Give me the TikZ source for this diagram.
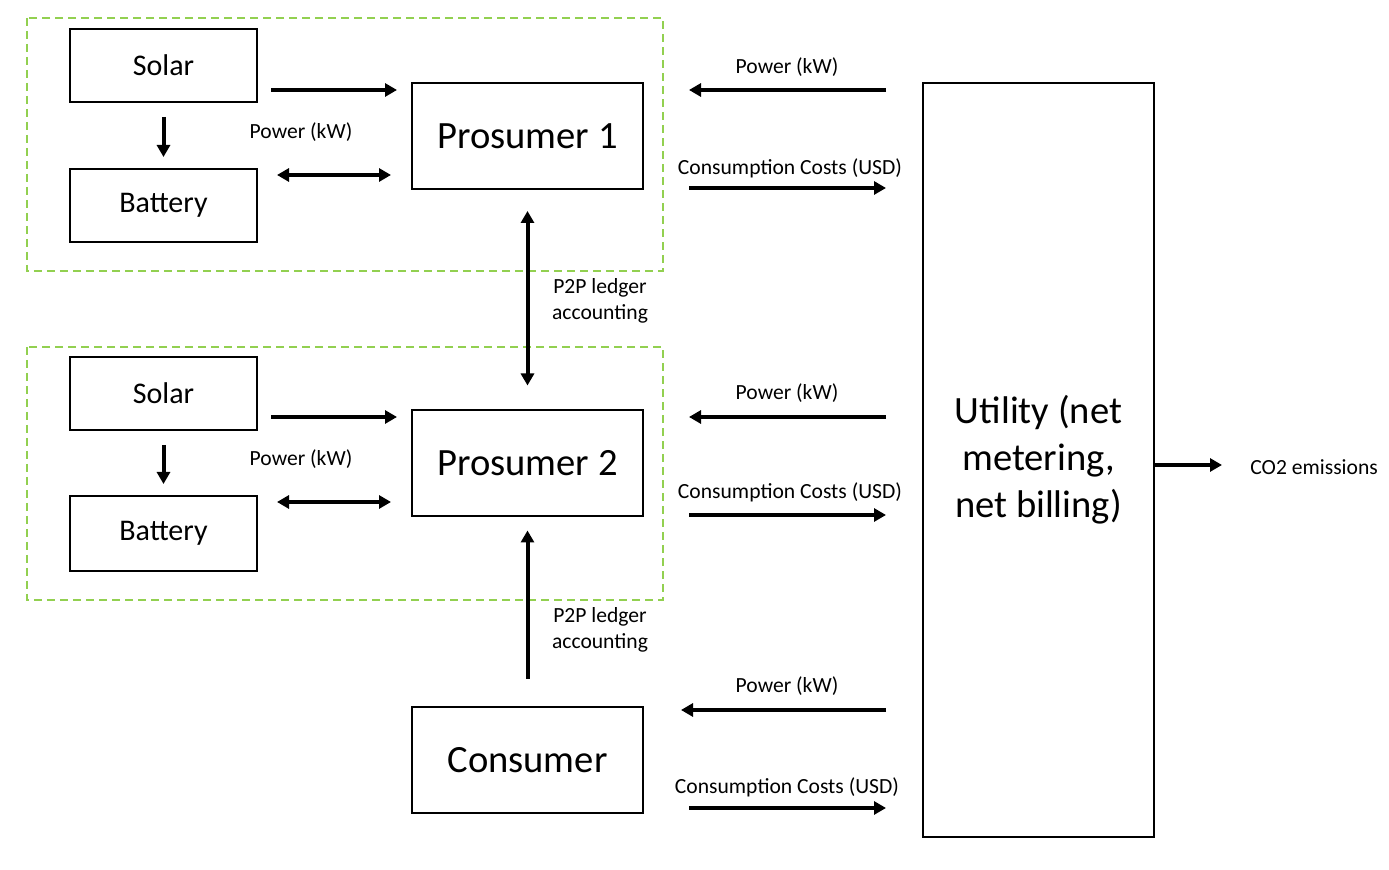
\documentclass[tikz,border=0pt]{standalone}
\usepackage{fontspec}
\setmainfont{Carlito}
\usetikzlibrary{arrows.meta}
\definecolor{grpgreen}{RGB}{146,208,80}
\tikzset{
  box/.style={draw, line width=1pt, inner sep=0pt, align=center},
  smallbox/.style={box, minimum width=93.5pt, minimum height=36.5pt, font=\fontsize{15}{18}\selectfont},
  bigbox/.style={box, minimum width=115.5pt, minimum height=53pt, font=\fontsize{19.3}{23.5}\selectfont},
  arr/.style={line width=2pt, -{Triangle[length=6pt,width=6.5pt]}},
  darr/.style={line width=2pt, {Triangle[length=6pt,width=6.5pt]}-{Triangle[length=6pt,width=6.5pt]}},
  lbl/.style={inner sep=0pt, align=center, font=\fontsize{10.8}{13}\selectfont},
  grp/.style={draw=grpgreen, line width=1pt, dash pattern=on 4pt off 2.5pt}
}
\begin{document}
\begin{tikzpicture}[x=0.5pt, y=-0.5pt]
  \useasboundingbox (0,0) rectangle (1389,870);
  % groups
  \draw[grp] (27,18) rectangle (663,271);
  \draw[grp] (27,347) rectangle (663,600);
  % nodes
  \node[smallbox] (sol1) at (163.5,65.5) {Solar};
  \node[smallbox] (bat1) at (163.5,205.5) {Battery};
  \node[bigbox] (p1) at (527.5,136) {Prosumer 1};
  \node[smallbox] (sol2) at (163.5,393.5) {Solar};
  \node[smallbox, minimum height=37.5pt] (bat2) at (163.5,533.5) {Battery};
  \node[bigbox] (p2) at (527.5,463.5) {Prosumer 2};
  \node[bigbox] (cons) at (527.5,760) {Consumer};
  \node[bigbox, minimum height=377pt] (util) at (1038.5,460) {Utility (net\\metering,\\net billing)};
  \node[lbl, anchor=west] (co2) at (1250,467) {CO2 emissions};
  % labels
  \node[lbl] (pw1) at (301,132) {Power (kW)};
  \node[lbl] (pw2) at (301,459) {Power (kW)};
  \node[lbl] (led1) at (600,301) {P2P ledger\\accounting};
  \node[lbl] (led2) at (600,630) {P2P ledger\\accounting};
  \node[lbl] (up1) at (787,67) {Power (kW)};
  \node[lbl] (uc1) at (790,168) {Consumption Costs (USD)};
  \node[lbl] (up2) at (787,393) {Power (kW)};
  \node[lbl] (uc2) at (790,492) {Consumption Costs (USD)};
  \node[lbl] (up3) at (787,686) {Power (kW)};
  \node[lbl] (uc3) at (787,787) {Consumption Costs (USD)};
  % prosumer 1
  \draw[arr, shorten <=6.5pt, shorten >=7pt] (sol1.east |- 0,90) -- (p1.west |- 0,90);
  \draw[arr, shorten <=7pt, shorten >=5.5pt] (sol1.south) -- (bat1.north);
  \draw[darr, shorten <=9.5pt, shorten >=10pt] (bat1.east |- 0,175) -- (p1.west |- 0,175);
  % prosumer 2
  \draw[arr, shorten <=6.5pt, shorten >=7pt] (sol2.east |- 0,417) -- (p2.west |- 0,417);
  \draw[arr, shorten <=7pt, shorten >=5.5pt] (sol2.south) -- (bat2.north);
  \draw[darr, shorten <=9.5pt, shorten >=10pt] (bat2.east |- 0,502) -- (p2.west |- 0,502);
  % ledger
  \draw[darr, shorten <=10.5pt, shorten >=12pt] (p1.south) -- (p2.north);
  \draw[arr, shorten <=13.5pt, shorten >=6.5pt] (cons.north) -- (p2.south);
  % utility
  \draw[arr, shorten <=18pt, shorten >=22.5pt] (util.west |- 0,90) -- (p1.east |- 0,90);
  \draw[arr, shorten <=22.5pt, shorten >=18pt] (p1.east |- 0,188) -- (util.west |- 0,188);
  \draw[arr, shorten <=18pt, shorten >=22.5pt] (util.west |- 0,417) -- (p2.east |- 0,417);
  \draw[arr, shorten <=22.5pt, shorten >=18pt] (p2.east |- 0,515) -- (util.west |- 0,515);
  \draw[arr, shorten <=18pt, shorten >=18.5pt] (util.west |- 0,710) -- (cons.east |- 0,710);
  \draw[arr, shorten <=22.5pt, shorten >=18pt] (cons.east |- 0,808) -- (util.west |- 0,808);
  \draw[arr, shorten >=14pt] (util.east |- 0,465) -- (co2.west |- 0,465);
\end{tikzpicture}
\end{document}
